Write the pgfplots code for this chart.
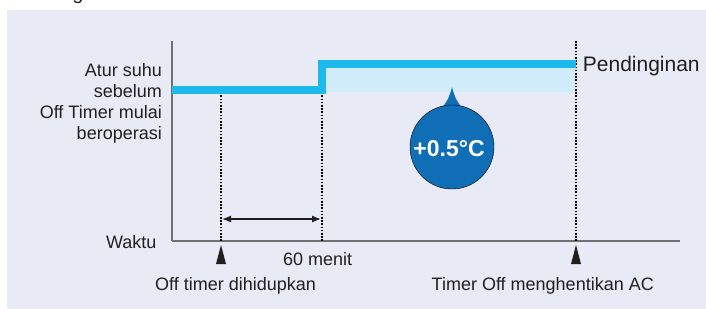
\documentclass[border=0pt]{standalone}
\usepackage{pgfplots}
\pgfplotsset{compat=1.18}
\usepackage{fontspec}
\setmainfont{Liberation Sans}
\usetikzlibrary{arrows.meta}
\definecolor{panel}{RGB}{232,234,246}
\definecolor{lineblue}{RGB}{29,184,236}
\definecolor{fillblue}{RGB}{208,236,250}
\definecolor{bubble}{RGB}{16,110,182}
\definecolor{txt}{RGB}{35,31,32}
\definecolor{axgray}{RGB}{112,112,116}
\newcommand\lbl{\fontsize{18}{21}\selectfont}
\begin{document}
\begin{tikzpicture}[x=1pt,y=1pt]
\useasboundingbox (0,0) rectangle (706,309);
\clip (0,0) rectangle (706,309);
\fill[white] (0,0) rectangle (706,309);
\fill[panel] (7,0) rectangle (706,299);
\node[anchor=base, text=txt, inner sep=0pt, font=\fontsize{20}{24}\selectfont] at (78,310) {g};
\begin{axis}[
  at={(172pt,68pt)}, anchor=south west,
  scale only axis, width=508pt, height=200pt,
  xmin=0, xmax=508, ymin=0, ymax=200,
  axis lines=left, axis line style={-, draw=axgray, line width=1.3pt},
  xtick=\empty, ytick=\empty,
  clip=false,
]
% light fill between the two set-point levels
\addplot[fill=fillblue, draw=none] coordinates {(154,149.3) (403,149.3) (403,173) (154,173)} -- cycle;
% dotted guide lines
\addplot[black, line width=1.2pt, dash pattern=on 1.6pt off 1.6pt] coordinates {(49,0) (49,149)};
\addplot[black, line width=1.2pt, dash pattern=on 1.6pt off 1.6pt] coordinates {(150,0) (150,149)};
\addplot[black, line width=1.2pt, dash pattern=on 1.6pt off 1.6pt] coordinates {(404,0) (404,200)};
% set temperature step line
\addplot[lineblue, line width=8pt, line join=miter, line cap=butt] coordinates {(0,151.5) (150,151.5) (150,177) (404,177)};
% 60 minute interval arrow
\addplot[txt, line width=1.3pt, {Latex[length=9pt,width=7pt]}-{Latex[length=9pt,width=7pt]}] coordinates {(50,22) (149,22)};
% event markers
\addplot[fill=txt, draw=none] coordinates {(44,-23) (54,-23) (49,-4)} -- cycle;
\addplot[fill=txt, draw=none] coordinates {(399,-23) (409,-23) (404,-4)} -- cycle;
% bubble
\addplot[fill=bubble, draw=none] coordinates {(280,154) (281,150) (284,142) (291,131) (269,131) (276,142) (279,150)} -- cycle;
\addplot[only marks, mark=*, mark size=42pt, mark options={fill=bubble, draw=none}] coordinates {(280,94)};
% labels
\node[anchor=base east, text=txt, inner sep=0pt, font=\lbl] at (axis cs:-10,164.3) {Atur suhu};
\node[anchor=base east, text=txt, inner sep=0pt, font=\lbl] at (axis cs:-10,143.5) {sebelum};
\node[anchor=base east, text=txt, inner sep=0pt, font=\lbl] at (axis cs:-10,122.5) {Off Timer mulai};
\node[anchor=base east, text=txt, inner sep=0pt, font=\lbl] at (axis cs:-10,101.5) {beroperasi};
\node[anchor=base east, text=txt, inner sep=0pt, font=\lbl] at (axis cs:-15.3,-7.3) {Waktu};
\node[anchor=base west, text=txt, inner sep=0pt, font=\fontsize{21}{25}\selectfont] at (axis cs:410.7,169.3) {Pendinginan};
\node[anchor=base west, text=txt, inner sep=0pt, font=\lbl] at (axis cs:111,-24) {60 menit};
\node[anchor=base west, text=txt, inner sep=0pt, font=\lbl] at (axis cs:-17,-49) {Off timer dihidupkan};
\node[anchor=base east, text=txt, inner sep=0pt, font=\lbl] at (axis cs:482,-49) {Timer Off menghentikan AC};
\end{axis}
\node[anchor=base, text=white, inner sep=0pt, font=\fontsize{23}{27}\selectfont\bfseries] at (449,152.3) {+0.5°C};
\end{tikzpicture}
\end{document}
